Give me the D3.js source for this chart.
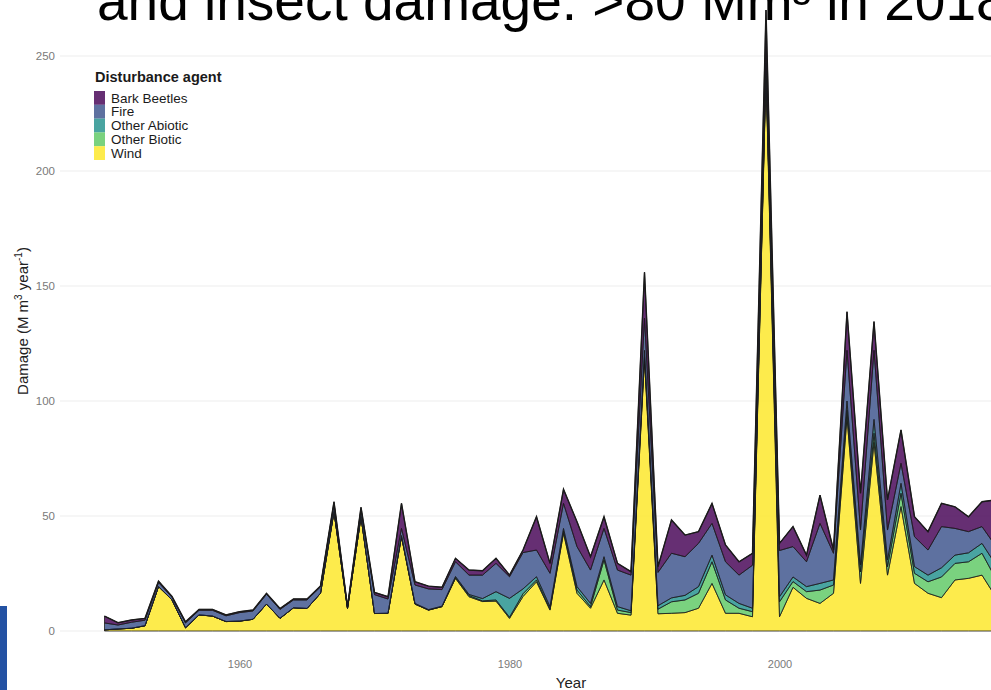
<!DOCTYPE html>
<html>
<head>
<meta charset="utf-8">
<script src="https://cdn.jsdelivr.net/npm/d3@7"></script>
<style>
  html, body { margin: 0; padding: 0; background: #ffffff; overflow: hidden; }
  svg { display: block; font-family: "Liberation Sans", Arial, sans-serif; }
</style>
</head>
<body>
<svg id="chart" width="991" height="690"></svg>
<script>
// Annual forest damage in Europe by disturbance agent (M m³ per year)
const years = d3.range(1950, 2017);

const wind = [
  0.5, 0.9, 1.2, 2.3, 19.3, 13.5, 1.4, 7.0, 6.5, 4.1,
  4.3, 5.1, 11.7, 5.5, 10.1, 9.8, 16.4, 51.9, 9.8, 49.7,
  7.6, 7.7, 41.0, 11.7, 9.1, 10.6, 22.9, 14.9, 12.8, 13.0,
  5.5, 15.0, 21.4, 9.1, 42.5, 16.4, 9.9, 22.2, 7.7, 6.9,
  118, 7.5, 7.7, 8.0, 9.9, 20.7, 7.7, 7.7, 6.2, 243,
  6.2, 19.0, 14.2, 12.0, 16.4, 93, 20.7, 82, 24.3, 54.1,
  20.7, 16.4, 14.5, 22.2, 22.9, 24.3, 15
];
const otherBiotic = [
  0, 0, 0, 0, 0, 0, 0, 0, 0, 0,
  0, 0, 0, 0, 0, 0, 0, 0, 0, 0,
  0, 0, 0, 0, 0, 0, 0.3, 0.5, 0.3, 0.5,
  0.5, 1.2, 0.8, 0.5, 1.0, 1.4, 0.7, 8.7, 1.4, 1.1,
  2, 2, 5.0, 5.5, 6.5, 9.4, 5.8, 2.2, 2.2, 2,
  6.5, 2.5, 2.9, 5.8, 3.6, 3, 5, 4, 3.7, 5.8,
  4.4, 5, 9, 7.2, 7.2, 9.5, 8
];
const otherAbiotic = [
  0, 0, 0, 0, 0, 0, 0, 0, 0, 0,
  0, 0, 0, 0, 0, 0, 0, 0, 0, 0,
  0, 0, 0.5, 0.3, 0.2, 0.2, 0.5, 0.5, 1.0, 3.6,
  8.2, 2.1, 1.4, 1.0, 1.1, 1.5, 1.4, 1.4, 1.5, 0.8,
  2, 1.5, 1.7, 2.0, 2.9, 2.9, 2.2, 2.1, 1.5, 2,
  2.2, 2.0, 2.2, 2.9, 2.2, 4, 3, 6, 2.9, 4.3,
  2.9, 2.9, 4, 3.6, 3.9, 4.3, 6
];
const fire = [
  3.0, 1.7, 2.6, 2.4, 1.8, 1.2, 2.1, 2.0, 2.5, 2.5,
  3.7, 3.6, 4.3, 3.9, 3.4, 3.7, 2.8, 3.3, 0.5, 3.1,
  8.2, 6.2, 3.1, 8.0, 9.0, 7.2, 6.4, 8.4, 10.2, 12.3,
  9.4, 15.8, 11.6, 14.5, 10.9, 17.4, 14.5, 12.3, 15.9, 15.5,
  14, 14.5, 19.4, 16.8, 18.8, 13.8, 14.4, 12.3, 18.7, 10,
  20.1, 13.2, 10.8, 26.1, 11.6, 22, 15.2, 30, 13, 8.7,
  13, 10.9, 17.9, 11.6, 9.2, 7.3, 8
];
const barkBeetles = [
  3.0, 1.0, 1.0, 0.8, 0.6, 0.3, 0.5, 0.4, 0.4, 0.4,
  0.4, 0.4, 0.4, 0.4, 0.4, 0.4, 0.4, 1.0, 0.3, 1.0,
  1.0, 1.0, 10.9, 1.4, 1.2, 1.0, 1.5, 2.2, 1.9, 2.2,
  0.7, 1.1, 14.5, 4.3, 6.1, 10.8, 5.8, 5.1, 2.9, 1.5,
  20, 2.5, 14.5, 9.4, 5.1, 8.7, 7.3, 5.8, 5.2, 13,
  3.1, 8.7, 2.9, 12.3, 1.4, 16.8, 16, 12.5, 13.1, 14.5,
  8.7, 8, 10.1, 9.4, 6.5, 10.8, 20
];

// Stack order, bottom to top
const agents = ["Wind", "Other Biotic", "Other Abiotic", "Fire", "Bark Beetles"];
const seriesByAgent = {
  "Wind": wind,
  "Other Biotic": otherBiotic,
  "Other Abiotic": otherAbiotic,
  "Fire": fire,
  "Bark Beetles": barkBeetles
};
const agentColors = {
  "Bark Beetles": "#440154",
  "Fire": "#3b528b",
  "Other Abiotic": "#21908c",
  "Other Biotic": "#5dc863",
  "Wind": "#fde725"
};
const legendOrder = ["Bark Beetles", "Fire", "Other Abiotic", "Other Biotic", "Wind"];
const yTicks = [0, 50, 100, 150, 200, 250];
const xTicks = [1960, 1980, 2000];

const rows = years.map((yr, i) => {
  const r = { year: yr };
  agents.forEach(a => { r[a] = seriesByAgent[a][i]; });
  return r;
});

const svg = d3.select("#chart");

const x = d3.scaleLinear().domain([1950, 2019]).range([104.5, 104.5 + 13.5 * 69]);
const y = d3.scaleLinear().domain([0, 250]).range([631, 56]);

// Heading text running off the top of the frame
svg.append("text")
  .attr("x", 97)
  .attr("y", 20)
  .attr("font-size", 55)
  .attr("fill", "#000")
  .attr("font-family", "'Liberation Sans', Arial, sans-serif")
  .text("and insect damage: >80 Mm³ in 2018");

// Gridlines
svg.append("g")
  .selectAll("line")
  .data(yTicks)
  .join("line")
  .attr("x1", 60)
  .attr("x2", 991)
  .attr("y1", d => y(d))
  .attr("y2", d => y(d))
  .attr("stroke", "#ededed")
  .attr("stroke-width", 1.1);

// Y axis labels
const yAxis = d3.axisLeft(y).tickValues(yTicks).tickSize(0).tickPadding(0);
const gy = svg.append("g").attr("transform", "translate(55,0)").call(yAxis);
gy.select(".domain").remove();
gy.selectAll("text")
  .attr("font-size", 11.5)
  .attr("fill", "#7a7a7a")
  .attr("font-family", "'Liberation Sans', Arial, sans-serif");

// X axis labels
const xAxis = d3.axisBottom(x).tickValues(xTicks).tickFormat(d3.format("d")).tickSize(0).tickPadding(0);
const gx = svg.append("g").attr("transform", "translate(0,660)").call(xAxis);
gx.select(".domain").remove();
gx.selectAll("text")
  .attr("font-size", 11)
  .attr("fill", "#7a7a7a")
  .attr("font-family", "'Liberation Sans', Arial, sans-serif");

// Stacked areas
const stack = d3.stack().keys(agents);
const layers = stack(rows);

const area = d3.area()
  .x(d => x(d.data.year))
  .y0(d => y(d[0]))
  .y1(d => y(d[1]));

svg.append("g")
  .selectAll("path")
  .data(layers)
  .join("path")
  .attr("d", area)
  .attr("fill", d => agentColors[d.key])
  .attr("fill-opacity", 0.82)
  .attr("stroke", "#1c1c1c")
  .attr("stroke-width", 0.8)
  .attr("stroke-linejoin", "miter");

// Outline along the top of the stack
const topLine = d3.line()
  .x(d => x(d.data.year))
  .y(d => y(d[1]));
svg.append("path")
  .datum(layers[layers.length - 1])
  .attr("d", topLine)
  .attr("fill", "none")
  .attr("stroke", "#1a1a1a")
  .attr("stroke-width", 1.4);

// Axis titles
svg.append("text")
  .attr("x", 571)
  .attr("y", 688)
  .attr("text-anchor", "middle")
  .attr("font-size", 15)
  .attr("fill", "#222")
  .text("Year");

const yTitle = svg.append("text")
  .attr("transform", "translate(28,321) rotate(-90)")
  .attr("text-anchor", "middle")
  .attr("font-size", 15)
  .attr("fill", "#222");
yTitle.append("tspan").text("Damage (M m");
yTitle.append("tspan").attr("font-size", 10).attr("dy", -6).text("3");
yTitle.append("tspan").attr("dy", 6).text(" year");
yTitle.append("tspan").attr("font-size", 10).attr("dy", -6).text("-1");
yTitle.append("tspan").attr("dy", 6).text(")");

// Legend
const legend = svg.append("g");
legend.append("text")
  .attr("x", 95)
  .attr("y", 82)
  .attr("font-size", 14.5)
  .attr("font-weight", "bold")
  .attr("fill", "#1a1a1a")
  .text("Disturbance agent");

const keyH = 13.8;
const items = legend.selectAll("g.item")
  .data(legendOrder)
  .join("g")
  .attr("class", "item")
  .attr("transform", (d, i) => `translate(94,${91 + i * keyH})`);
items.append("rect")
  .attr("width", 11)
  .attr("height", keyH)
  .attr("fill", d => agentColors[d])
  .attr("fill-opacity", 0.82);
items.append("text")
  .attr("x", 17)
  .attr("y", keyH / 2 + 4.6)
  .attr("font-size", 13.5)
  .attr("fill", "#1a1a1a")
  .text(d => d);

// Slide accent bar at the lower left
svg.append("rect")
  .attr("x", 0)
  .attr("y", 606)
  .attr("width", 7)
  .attr("height", 84)
  .attr("fill", "#2452a3");
</script>
</body>
</html>
